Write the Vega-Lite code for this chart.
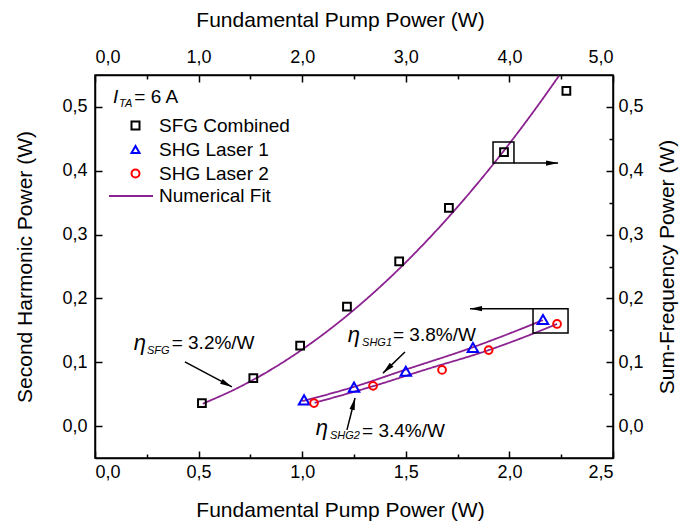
{
  "$schema": "https://vega.github.io/schema/vega-lite/v6.json",
  "width": 518,
  "height": 383,
  "autosize": {"type": "none"},
  "padding": {"left": 95, "top": 75, "right": 67, "bottom": 69},
  "background": "white",
  "config": {
    "font": "Liberation Sans",
    "view": {"stroke": "black", "strokeWidth": 1.5},
    "axis": {
      "domainColor": "black", "domainWidth": 1.5,
      "tickColor": "black", "tickWidth": 1.5,
      "labelColor": "black", "titleColor": "black",
      "labelFontSize": 18, "titleFontSize": 21, "titleFontWeight": "normal",
      "labelFont": "Liberation Sans", "titleFont": "Liberation Sans",
      "grid": false, "labelPadding": 12
    }
  },
  "datasets": {
    "pts": [
      {"series": "SFG Combined", "x": 0.516, "y": 0.036},
      {"series": "SFG Combined", "x": 0.764, "y": 0.075},
      {"series": "SFG Combined", "x": 0.99, "y": 0.126},
      {"series": "SFG Combined", "x": 1.216, "y": 0.187},
      {"series": "SFG Combined", "x": 1.468, "y": 0.258},
      {"series": "SFG Combined", "x": 1.708, "y": 0.342},
      {"series": "SFG Combined", "x": 1.974, "y": 0.429},
      {"series": "SFG Combined", "x": 2.275, "y": 0.525},
      {"series": "SHG Laser 1", "x": 1.009, "y": 0.041},
      {"series": "SHG Laser 1", "x": 1.25, "y": 0.061},
      {"series": "SHG Laser 1", "x": 1.5, "y": 0.086},
      {"series": "SHG Laser 1", "x": 1.824, "y": 0.123},
      {"series": "SHG Laser 1", "x": 2.162, "y": 0.167},
      {"series": "SHG Laser 2", "x": 1.057, "y": 0.036},
      {"series": "SHG Laser 2", "x": 1.342, "y": 0.063},
      {"series": "SHG Laser 2", "x": 1.675, "y": 0.088},
      {"series": "SHG Laser 2", "x": 1.9, "y": 0.119},
      {"series": "SHG Laser 2", "x": 2.23, "y": 0.16}
    ],
    "fits": [
      {"series": "Numerical Fit", "fit": "SFG", "x": 0.52, "y": 0.035},
      {"series": "Numerical Fit", "fit": "SFG", "x": 0.7, "y": 0.0616},
      {"series": "Numerical Fit", "fit": "SFG", "x": 0.9, "y": 0.0985},
      {"series": "Numerical Fit", "fit": "SFG", "x": 1.1, "y": 0.1434},
      {"series": "Numerical Fit", "fit": "SFG", "x": 1.3, "y": 0.1961},
      {"series": "Numerical Fit", "fit": "SFG", "x": 1.5, "y": 0.2566},
      {"series": "Numerical Fit", "fit": "SFG", "x": 1.7, "y": 0.3251},
      {"series": "Numerical Fit", "fit": "SFG", "x": 1.9, "y": 0.4014},
      {"series": "Numerical Fit", "fit": "SFG", "x": 2.1, "y": 0.4855},
      {"series": "Numerical Fit", "fit": "SFG", "x": 2.24, "y": 0.549},
      {"series": "Numerical Fit", "fit": "SHG1", "x": 1.0, "y": 0.039},
      {"series": "Numerical Fit", "fit": "SHG1", "x": 1.25, "y": 0.0615},
      {"series": "Numerical Fit", "fit": "SHG1", "x": 1.5, "y": 0.0885},
      {"series": "Numerical Fit", "fit": "SHG1", "x": 1.824, "y": 0.1235},
      {"series": "Numerical Fit", "fit": "SHG1", "x": 2.0, "y": 0.145},
      {"series": "Numerical Fit", "fit": "SHG1", "x": 2.162, "y": 0.166},
      {"series": "Numerical Fit", "fit": "SHG2", "x": 1.06, "y": 0.0365},
      {"series": "Numerical Fit", "fit": "SHG2", "x": 1.342, "y": 0.0625},
      {"series": "Numerical Fit", "fit": "SHG2", "x": 1.6, "y": 0.089},
      {"series": "Numerical Fit", "fit": "SHG2", "x": 1.9, "y": 0.119},
      {"series": "Numerical Fit", "fit": "SHG2", "x": 2.1, "y": 0.143},
      {"series": "Numerical Fit", "fit": "SHG2", "x": 2.23, "y": 0.16}
    ],
    "arrows": [
      {"x": 0.434, "y": 0.1006, "x2": 0.661, "y2": 0.0613},
      {"x": 1.496, "y": 0.116, "x2": 1.39, "y2": 0.083},
      {"x": 1.216, "y": -0.006, "x2": 1.255, "y2": 0.044},
      {"x": 2.022, "y": 0.412, "x2": 2.235, "y2": 0.412},
      {"x": 2.114, "y": 0.184, "x2": 1.81, "y2": 0.184}
    ],
    "boxes": [
      {"x": 1.921, "x2": 2.022, "y": 0.412, "y2": 0.445},
      {"x": 2.114, "x2": 2.283, "y": 0.146, "y2": 0.184}
    ],
    "eta": [
      {"x": 0.187, "y": 0.1305, "t": "η"},
      {"x": 1.22, "y": 0.143, "t": "η"},
      {"x": 1.065, "y": -0.003, "t": "η"}
    ],
    "ita": [
      {"x": 0.087, "y": 0.516, "t": "I"}
    ],
    "subs": [
      {"x": 0.251, "y": 0.117, "t": "SFG"},
      {"x": 1.289, "y": 0.13, "t": "SHG1"},
      {"x": 1.134, "y": -0.016, "t": "SHG2"},
      {"x": 0.116, "y": 0.504, "t": "TA"}
    ],
    "plain": [
      {"x": 0.37, "y": 0.1305, "t": "= 3.2%/W"},
      {"x": 1.438, "y": 0.143, "t": "= 3.8%/W"},
      {"x": 1.289, "y": -0.008, "t": "= 3.4%/W"},
      {"x": 0.19, "y": 0.516, "t": "= 6 A"}
    ]
  },
  "layer": [
    {
      "layer": [
        {
          "data": {"name": "fits"},
          "mark": {"type": "line", "strokeWidth": 1.8, "interpolate": "monotone", "color": "#8b2290"},
          "encoding": {
            "x": {
              "field": "x", "type": "quantitative",
              "scale": {"domain": [0, 2.5], "nice": false, "zero": false},
              "axis": {
                "orient": "bottom",
                "title": "Fundamental Pump Power (W)",
                "titleX": 245,
                "values": [0, 0.25, 0.5, 0.75, 1, 1.25, 1.5, 1.75, 2, 2.25, 2.5],
                "labelExpr": "round(datum.value*4)%2==0 ? replace(format(datum.value,'.1f'),'.',',') : ''",
                "tickSize": {"condition": {"test": "round(datum.value*4)%2==0", "value": -7}, "value": -4},
                "titlePadding": 18
              }
            },
            "y": {
              "field": "y", "type": "quantitative",
              "scale": {"domain": [-0.05, 0.55], "nice": false, "zero": false},
              "axis": {
                "orient": "left",
                "title": "Second Harmonic Power (W)",
                "values": [0, 0.05, 0.1, 0.15, 0.2, 0.25, 0.3, 0.35, 0.4, 0.45, 0.5],
                "labelExpr": "round(datum.value*20)%2==0 ? replace(format(datum.value,'.1f'),'.',',') : ''",
                "tickSize": {"condition": {"test": "round(datum.value*20)%2==0", "value": -7}, "value": -4},
                "labelPadding": 15,
                "titlePadding": 26
              }
            },
            "detail": {"field": "fit"},
            "strokeDash": {
              "field": "series", "type": "nominal",
              "scale": {"domain": ["Numerical Fit"], "range": [[1, 0]]},
              "legend": {
                "title": null, "orient": "none", "legendX": 13, "legendY": 98,
                "labelFontSize": 19, "labelFont": "Liberation Sans", "labelColor": "black",
                "symbolType": "stroke", "symbolSize": 1936, "symbolStrokeColor": "#8b2290",
                "symbolStrokeWidth": 1.8, "symbolDash": [1, 0], "labelOffset": 5, "padding": 0
              }
            }
          }
        },
        {
          "data": {"name": "pts"},
          "mark": {"type": "point", "filled": false, "strokeWidth": 2, "opacity": 1},
          "encoding": {
            "x": {"field": "x", "type": "quantitative"},
            "y": {"field": "y", "type": "quantitative"},
            "size": {"condition": {"test": "datum.series==='SHG Laser 1'", "value": 110}, "value": 60},
            "color": {
              "field": "series", "type": "nominal",
              "scale": {"domain": ["SFG Combined", "SHG Laser 1", "SHG Laser 2"], "range": ["black", "#0000ff", "#ff0000"]},
              "legend": {
                "title": null, "orient": "none", "legendX": 31, "legendY": 41,
                "labelFontSize": 19, "labelFont": "Liberation Sans", "labelColor": "black",
                "symbolSize": 64, "symbolStrokeWidth": 2, "labelOffset": 14, "rowPadding": 4, "padding": 0
              }
            },
            "shape": {
              "field": "series", "type": "nominal",
              "scale": {"domain": ["SFG Combined", "SHG Laser 1", "SHG Laser 2"], "range": ["square", "triangle-up", "circle"]},
              "legend": {
                "title": null, "orient": "none", "legendX": 31, "legendY": 41,
                "labelFontSize": 19, "labelFont": "Liberation Sans", "labelColor": "black",
                "symbolSize": 64, "symbolStrokeWidth": 2, "labelOffset": 14, "rowPadding": 4, "padding": 0
              }
            }
          }
        },
        {
          "data": {"name": "boxes"},
          "mark": {"type": "rect", "fill": null, "fillOpacity": 0, "stroke": "black", "strokeWidth": 1.5},
          "encoding": {
            "x": {"field": "x", "type": "quantitative"},
            "x2": {"field": "x2"},
            "y": {"field": "y", "type": "quantitative"},
            "y2": {"field": "y2"}
          }
        },
        {
          "data": {"name": "arrows"},
          "mark": {"type": "rule", "color": "black", "strokeWidth": 1.5},
          "encoding": {
            "x": {"field": "x", "type": "quantitative"},
            "x2": {"field": "x2"},
            "y": {"field": "y", "type": "quantitative"},
            "y2": {"field": "y2"}
          }
        },
        {
          "data": {"name": "arrows"},
          "transform": [
            {"calculate": "atan2((datum.x2-datum.x)*207.2, (datum.y2-datum.y)*638.3)*180/PI", "as": "ang"}
          ],
          "mark": {"type": "point", "shape": "M0,0L0.45,2L-0.45,2Z", "filled": true, "color": "black", "size": 144, "opacity": 1, "strokeWidth": 0},
          "encoding": {
            "x": {"field": "x2", "type": "quantitative"},
            "y": {"field": "y2", "type": "quantitative"},
            "angle": {"field": "ang", "type": "quantitative", "scale": null}
          }
        },
        {
          "data": {"name": "eta"},
          "mark": {"type": "text", "align": "left", "baseline": "middle", "fontStyle": "italic", "fontSize": 22, "color": "black", "font": "Liberation Sans"},
          "encoding": {
            "x": {"field": "x", "type": "quantitative"},
            "y": {"field": "y", "type": "quantitative"},
            "text": {"field": "t"}
          }
        },
        {
          "data": {"name": "ita"},
          "mark": {"type": "text", "align": "left", "baseline": "middle", "fontStyle": "italic", "fontSize": 19, "color": "black", "font": "Liberation Sans"},
          "encoding": {
            "x": {"field": "x", "type": "quantitative"},
            "y": {"field": "y", "type": "quantitative"},
            "text": {"field": "t"}
          }
        },
        {
          "data": {"name": "subs"},
          "mark": {"type": "text", "align": "left", "baseline": "middle", "fontStyle": "italic", "fontSize": 11, "color": "black", "font": "Liberation Sans"},
          "encoding": {
            "x": {"field": "x", "type": "quantitative"},
            "y": {"field": "y", "type": "quantitative"},
            "text": {"field": "t"}
          }
        },
        {
          "data": {"name": "plain"},
          "mark": {"type": "text", "align": "left", "baseline": "middle", "fontSize": 19, "color": "black", "font": "Liberation Sans"},
          "encoding": {
            "x": {"field": "x", "type": "quantitative"},
            "y": {"field": "y", "type": "quantitative"},
            "text": {"field": "t"}
          }
        }
      ]
    },
    {
      "data": {"values": [{"top": 0, "right": 0}]},
      "mark": {"type": "point", "opacity": 0},
      "encoding": {
        "x": {
          "field": "top", "type": "quantitative",
          "scale": {"domain": [0, 5], "nice": false, "zero": false},
          "axis": {
            "orient": "top",
            "title": "Fundamental Pump Power (W)",
            "titleX": 245,
            "values": [0, 0.5, 1, 1.5, 2, 2.5, 3, 3.5, 4, 4.5, 5],
            "labelExpr": "round(datum.value*2)%2==0 ? replace(format(datum.value,'.1f'),'.',',') : ''",
            "tickSize": {"condition": {"test": "round(datum.value*2)%2==0", "value": -7}, "value": -4},
            "labelPadding": 16,
            "titlePadding": 18
          }
        },
        "y": {
          "field": "right", "type": "quantitative",
          "scale": {"domain": [-0.05, 0.55], "nice": false, "zero": false},
          "axis": {
            "orient": "right",
            "title": "Sum-Frequency Power (W)",
            "titleAngle": 270,
            "titleBaseline": "top",
            "values": [0, 0.05, 0.1, 0.15, 0.2, 0.25, 0.3, 0.35, 0.4, 0.45, 0.5],
            "labelExpr": "round(datum.value*20)%2==0 ? replace(format(datum.value,'.1f'),'.',',') : ''",
            "tickSize": {"condition": {"test": "round(datum.value*20)%2==0", "value": -7}, "value": -4},
            "titlePadding": 13
          }
        }
      }
    }
  ],
  "resolve": {"scale": {"x": "independent", "y": "independent"}}
}
